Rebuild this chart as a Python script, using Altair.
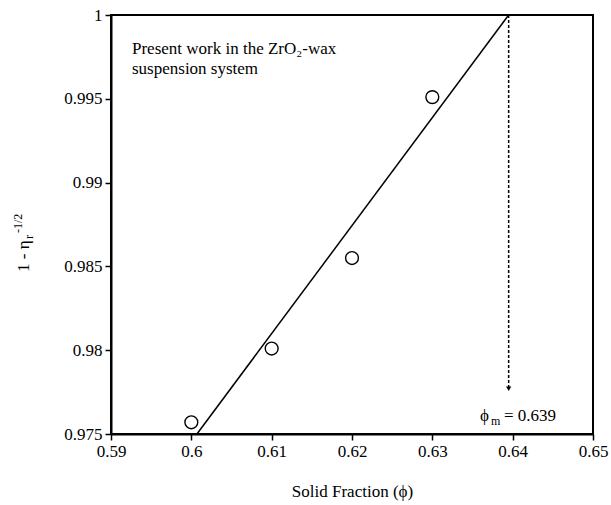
import altair as alt
import pandas as pd

# data
phi = [0.60, 0.61, 0.62, 0.63]
y_val = [0.9757, 0.9801, 0.9855, 0.9951]
fit_x = [0.6007, 0.6395]
fit_y = [0.975, 1.0]
phi_m = [0.6395]
arrow_top = [1.0]
arrow_end = [0.9777]
x_ticks = [0.59, 0.60, 0.61, 0.62, 0.63, 0.64, 0.65]
y_ticks = [0.975, 0.98, 0.985, 0.99, 0.995, 1.0]

W, H = 482, 419
FONT = "Liberation Serif"
LS = 17

xs = alt.Scale(domain=[0.59, 0.65], nice=False, zero=False)
ys = alt.Scale(domain=[0.975, 1.0], nice=False, zero=False)

X = alt.X("x:Q", scale=xs, axis=alt.Axis(
    values=x_ticks, labelExpr="format(datum.value, '.2~f')",
    title="Solid Fraction (ϕ)", titleY=57, titleBaseline="middle",
    titleFont=FONT, titleFontSize=LS, titleFontWeight="normal", titleColor="black",
    labelFont=FONT, labelFontSize=LS, labelColor="black", labelPadding=3,
    labelFlush=False))
Y = alt.Y("y:Q", scale=ys, axis=alt.Axis(
    values=y_ticks, labelExpr="format(datum.value, '.3~f')", title=None,
    labelFont=FONT, labelFontSize=LS, labelColor="black", labelPadding=3))

pts = alt.Chart(pd.DataFrame({"x": phi, "y": y_val})).mark_point(
    shape="circle", size=165, filled=False, stroke="black", strokeWidth=1.4, opacity=1
).encode(x=X, y=Y)

fit = alt.Chart(pd.DataFrame({"x": fit_x, "y": fit_y})).mark_line(
    color="black", strokeWidth=1.5
).encode(x=X, y=Y)

arrow = alt.Chart(pd.DataFrame({"x": phi_m, "y": arrow_top, "y2": arrow_end})).mark_rule(
    color="black", strokeWidth=1.5, strokeDash=[3, 2]
).encode(x=X, y=Y, y2="y2:Q")

head = alt.Chart(pd.DataFrame({"x": phi_m, "y": arrow_end})).mark_point(
    shape="triangle-down", size=28, filled=True, color="black", opacity=1
).encode(x=X, y=Y)

one = pd.DataFrame({"a": [0]})


def txt(s, px, py, size=17, angle=0):
    kw = dict(align="left", baseline="middle", font=FONT, fontSize=size, color="black")
    if angle:
        kw["angle"] = angle
    return alt.Chart(one).mark_text(**kw).encode(
        x=alt.value(px), y=alt.value(py), text=alt.value(s))


labels = [
    txt("Present work in the ZrO₂-wax", 21, 34),
    txt("suspension system", 21, 54),
    txt("ϕ", 369, 401),
    txt("m", 380, 406, size=12),
    txt("= 0.639", 393, 401),
    txt("1 - η", -87, 257, angle=270, size=17),
    txt("r", -82, 224, size=12, angle=270),
    txt("-1/2", -93, 218, size=12, angle=270),
]

chart = alt.layer(fit, arrow, head, pts, *labels).properties(
    width=W, height=H,
    padding={"left": 111, "top": 15, "right": 18, "bottom": 71},
    autosize=alt.AutoSizeParams(type="none"),
    background="white",
).configure_view(
    stroke="black", strokeWidth=2
).configure_axis(
    grid=False, domainColor="black", domainWidth=2, tickColor="black", tickWidth=1.5,
    tickSize=6
)

chart.save("out.html", embed_options={"renderer": "svg", "actions": False})
